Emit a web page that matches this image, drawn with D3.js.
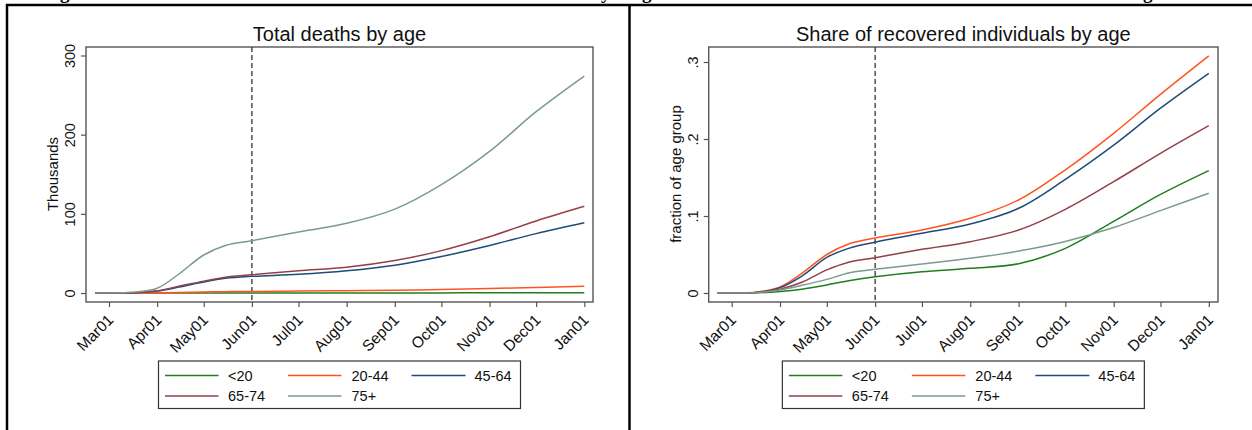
<!DOCTYPE html>
<html>
<head>
<meta charset="utf-8">
<script src="https://cdn.jsdelivr.net/npm/d3@7"></script>
<style>
  body { margin: 0; background: #fff; }
  svg text { font-family: "Liberation Sans", Arial, sans-serif; }
</style>
</head>
<body>
<svg id="chart" width="1252" height="430"></svg>
<script>
const dates = ["2020-02-21", "2020-03-01", "2020-03-15", "2020-04-01", "2020-04-15", "2020-05-01", "2020-05-15",
  "2020-06-01", "2020-07-01", "2020-08-01", "2020-09-01", "2020-10-01", "2020-11-01", "2020-12-01", "2021-01-01"];

const ageGroups = ["<20", "20-44", "45-64", "65-74", "75+"];
const lineColors = ["#1f7f1f", "#ff5422", "#1d4c79", "#93404a", "#7a9b8e"];

// total deaths, thousands
const deathsU20 = [0, 0, 0, 0, 0, 0.05, 0.1, 0.1, 0.1, 0.1, 0.15, 0.15, 0.2, 0.25, 0.3];
const deaths2044 = [0, 0, 0, 0.2, 0.6, 1.2, 1.7, 2.0, 2.4, 2.9, 3.5, 4.4, 5.6, 7.0, 8.6];
const deaths4564 = [0, 0, 0.1, 2.5, 7.5, 14, 18.5, 21, 23.6, 28, 35, 46, 60, 75, 88.6];
const deaths6574 = [0, 0, 0.1, 2.8, 8.5, 15, 20, 23, 28, 32.5, 41, 53.5, 71, 91, 109.5];
const deaths75p = [0, 0, 0.8, 6, 24, 48, 60, 66, 77, 88, 106, 137, 179, 229, 274];

// share of recovered, fraction of age group
const recovU20 = [0, 0, 0, 0.002, 0.005, 0.0105, 0.016, 0.021, 0.0275, 0.032, 0.038, 0.058, 0.093, 0.128, 0.159];
const recov2044 = [0, 0, 0.0005, 0.008, 0.0256, 0.050, 0.0636, 0.0714, 0.0818, 0.097, 0.1208, 0.16, 0.2074, 0.258, 0.308];
const recov4564 = [0, 0, 0.0004, 0.007, 0.022, 0.0463, 0.058, 0.066, 0.0775, 0.0896, 0.11, 0.1476, 0.192, 0.24, 0.2853];
const recov6574 = [0, 0, 0.0003, 0.005, 0.014, 0.03, 0.040, 0.0459, 0.0567, 0.0667, 0.0818, 0.1087, 0.1446, 0.1814, 0.2173];
const recov75p = [0, 0, 0.0002, 0.004, 0.010, 0.0177, 0.026, 0.0307, 0.0377, 0.045, 0.0545, 0.067, 0.085, 0.107, 0.1295];

const xTickDates = ["2020-03-01", "2020-04-01", "2020-05-01", "2020-06-01", "2020-07-01", "2020-08-01",
  "2020-09-01", "2020-10-01", "2020-11-01", "2020-12-01", "2021-01-01"];
const xTickLabels = ["Mar01", "Apr01", "May01", "Jun01", "Jul01", "Aug01", "Sep01", "Oct01", "Nov01", "Dec01", "Jan01"];
const dashDate = "2020-06-01";

const deathTicks = [0, 100, 200, 300];
const deathTickLabels = ["0", "100", "200", "300"];
const shareTicks = [0, 0.1, 0.2, 0.3];
const shareTickLabels = ["0", ".1", ".2", ".3"];

const parse = d3.utcParse("%Y-%m-%d");
const dateObjs = dates.map(parse);

const svg = d3.select("#chart");

function drawPanel(cfg) {
  const g = svg.append("g");

  const x = d3.scaleUtc()
    .domain([parse("2020-03-01"), parse("2021-01-01")])
    .range([cfg.x0, cfg.x1]);
  const y = d3.scaleLinear()
    .domain([0, cfg.yMax])
    .range([293, cfg.yTop]);

  // plot region frame
  g.append("rect")
    .attr("x", cfg.left)
    .attr("y", cfg.top)
    .attr("width", cfg.right - cfg.left)
    .attr("height", cfg.bottom - cfg.top)
    .attr("fill", "none")
    .attr("stroke", "#555")
    .attr("stroke-width", 1.4);

  // y axis
  const yAxis = g.append("g")
    .attr("transform", `translate(${cfg.left},0)`)
    .call(d3.axisLeft(y).tickValues(cfg.yTicks).tickFormat((d, i) => cfg.yTickLabels[i]).tickSize(5));
  yAxis.attr("font-family", null).attr("font-size", null);
  yAxis.select(".domain").remove();
  yAxis.selectAll(".tick line").attr("stroke", "#555").attr("stroke-width", 1.2);
  yAxis.selectAll(".tick text")
    .attr("x", 0)
    .attr("y", -11)
    .attr("dy", 0)
    .attr("transform", "rotate(-90)")
    .attr("text-anchor", "middle")
    .style("font-size", "14.5px")
    .attr("fill", "#111");

  // x axis
  const xAxis = g.append("g")
    .attr("transform", `translate(0,${cfg.bottom})`)
    .call(d3.axisBottom(x).tickValues(xTickDates.map(parse)).tickFormat((d, i) => xTickLabels[i]).tickSize(5));
  xAxis.attr("font-family", null).attr("font-size", null);
  xAxis.select(".domain").remove();
  xAxis.selectAll(".tick line").attr("stroke", "#555").attr("stroke-width", 1.2);
  xAxis.selectAll(".tick text")
    .attr("x", 0)
    .attr("y", 0)
    .attr("dy", "0.35em")
    .attr("transform", "translate(1,15) rotate(-45)")
    .attr("text-anchor", "end")
    .style("font-size", "15.5px")
    .attr("fill", "#111");

  // dashed reference line
  g.append("line")
    .attr("x1", x(parse(dashDate)))
    .attr("x2", x(parse(dashDate)))
    .attr("y1", cfg.top)
    .attr("y2", cfg.bottom)
    .attr("stroke", "#333")
    .attr("stroke-width", 1.3)
    .attr("stroke-dasharray", "5,3");

  const line = d3.line()
    .x((d, i) => x(dateObjs[i]))
    .y(d => y(d))
    .curve(d3.curveCatmullRom.alpha(0.5));

  cfg.series.forEach((s, k) => {
    g.append("path")
      .attr("d", line(s))
      .attr("fill", "none")
      .attr("stroke", lineColors[k])
      .attr("stroke-width", 1.5);
  });

  const cx = (cfg.left + cfg.right) / 2;

  // title
  g.append("text")
    .attr("x", cx)
    .attr("y", 41)
    .attr("text-anchor", "middle")
    .style("font-size", "20px")
    .attr("fill", "#111")
    .text(cfg.title);

  // y axis title
  g.append("text")
    .attr("transform", `translate(${cfg.yTitleX},174) rotate(-90)`)
    .attr("text-anchor", "middle")
    .style("font-size", "15px")
    .attr("fill", "#111")
    .text(cfg.yTitle);

  // legend
  const lg = g.append("g").attr("transform", `translate(${cx - 181},361)`);
  lg.append("rect")
    .attr("width", 362)
    .attr("height", 47.5)
    .attr("fill", "#fff")
    .attr("stroke", "#333")
    .attr("stroke-width", 1.2);
  const cols = [[6.5, 60, 69.5], [129.5, 183, 193], [253, 307, 316]];
  const rows = [14.5, 35];
  ageGroups.forEach((name, k) => {
    const c = cols[k % 3];
    const ry = rows[Math.floor(k / 3)];
    lg.append("line")
      .attr("x1", c[0]).attr("x2", c[1])
      .attr("y1", ry).attr("y2", ry)
      .attr("stroke", lineColors[k])
      .attr("stroke-width", 1.5);
    lg.append("text")
      .attr("x", c[2])
      .attr("y", ry)
      .attr("dy", "0.36em")
      .style("font-size", "14.5px")
      .attr("fill", "#111")
      .text(name);
  });
}

drawPanel({
  left: 86, right: 593, top: 47, bottom: 302,
  x0: 109, x1: 584.3,
  yMax: 300, yTop: 55.5,
  yTicks: deathTicks, yTickLabels: deathTickLabels,
  yTitle: "Thousands", yTitleX: 58,
  title: "Total deaths by age",
  series: [deathsU20, deaths2044, deaths4564, deaths6574, deaths75p]
});

drawPanel({
  left: 708.7, right: 1218, top: 47, bottom: 302,
  x0: 731.7, x1: 1208.8,
  yMax: 0.3, yTop: 62,
  yTicks: shareTicks, yTickLabels: shareTickLabels,
  yTitle: "fraction of age group", yTitleX: 681,
  title: "Share of recovered individuals by age",
  series: [recovU20, recov2044, recov4564, recov6574, recov75p]
});

// page table border and the clipped caption line above it
svg.append("line").attr("x1", 6).attr("x2", 1252).attr("y1", 5).attr("y2", 5)
  .attr("stroke", "#000").attr("stroke-width", 2.5);
svg.append("line").attr("x1", 7).attr("x2", 7).attr("y1", 4).attr("y2", 430)
  .attr("stroke", "#000").attr("stroke-width", 2.5);
svg.append("line").attr("x1", 629.5).attr("x2", 629.5).attr("y1", 4).attr("y2", 430)
  .attr("stroke", "#000").attr("stroke-width", 2.5);

const captionBits = [["g", 60], ["y", 601], ["g", 642], ["g", 1143]];
captionBits.forEach(b => {
  svg.append("text")
    .attr("x", b[1])
    .attr("y", -1)
    .style("font-family", "'Liberation Serif', serif")
    .style("font-weight", "bold")
    .style("font-size", "19px")
    .text(b[0]);
});
</script>
</body>
</html>
